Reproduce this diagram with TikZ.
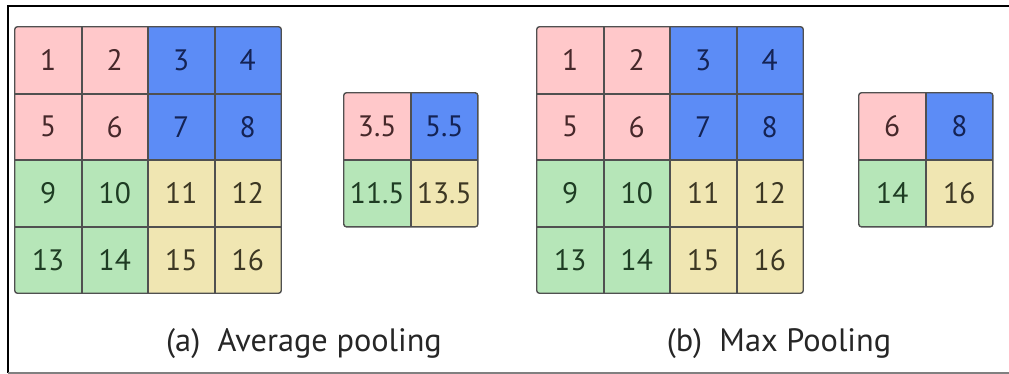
\documentclass[tikz,border=0pt]{standalone}
\usepackage{fontspec}
\setmainfont{PT Sans}
\usetikzlibrary{positioning}
\definecolor{cPink}{RGB}{255,200,202}
\definecolor{cBlue}{RGB}{92,140,246}
\definecolor{cGreen}{RGB}{182,230,184}
\definecolor{cYellow}{RGB}{240,230,178}
\definecolor{tPink}{RGB}{70,40,42}
\definecolor{tBlue}{RGB}{20,35,85}
\definecolor{tGreen}{RGB}{30,60,35}
\definecolor{tYellow}{RGB}{60,55,35}
\definecolor{gridline}{RGB}{80,80,80}

\begin{document}
\begin{tikzpicture}[
    x=0.025cm, y=-0.025cm,
    cell/.style={rectangle, minimum size=1.6625cm, inner sep=0pt, font=\fontsize{21}{24}\selectfont},
    qpink/.style={cell, fill=cPink, text=tPink},
    qblue/.style={cell, fill=cBlue, text=tBlue},
    qgreen/.style={cell, fill=cGreen, text=tGreen},
    qyellow/.style={cell, fill=cYellow, text=tYellow},
    inner/.style={draw=gridline, line width=1.2pt},
    outer/.style={draw=gridline, line width=1pt, rounded corners=2pt},
    caption/.style={font=\fontsize{23}{27}\selectfont, text=black!85}
]
    \useasboundingbox (0,0) rectangle (1009,374);

    % frame of the figure
    \coordinate (frameTL) at (8,6);
    \coordinate (frameTR) at (1009,6);
    \coordinate (frameBL) at (8,373);
    \coordinate (frameBR) at (1009,373);
    \draw[line width=1.5pt] (frameTR) -- (frameTL) -- (frameBL);
    \draw[gray, line width=0.8pt] (frameBL) -- (frameBR);

    % input grids
    \foreach \n/\q [count=\i from 0] in {1/qpink,2/qpink,3/qblue,4/qblue,5/qpink,6/qpink,7/qblue,8/qblue,
        9/qgreen,10/qgreen,11/qyellow,12/qyellow,13/qgreen,14/qgreen,15/qyellow,16/qyellow}{
        \pgfmathsetmacro\cx{48.25+66.5*mod(\i,4)}
        \pgfmathsetmacro\cy{60.25+66.5*int(\i/4)}
        \node[\q] (a\n) at (\cx,\cy) {\n};
        \node[\q] (m\n) at (\cx+522,\cy) {\n};
    }

    % pooled grids
    \node[qpink] (sa1) at (377.25,126.25) {3.5};
    \node[qblue, right=0pt of sa1] (sa2) {5.5};
    \node[qgreen, below=0pt of sa1] (sa3) {11.5};
    \node[qyellow, right=0pt of sa3] (sa4) {13.5};

    \node[qpink] (sm1) at (892.25,126.25) {6};
    \node[qblue, right=0pt of sm1] (sm2) {8};
    \node[qgreen, below=0pt of sm1] (sm3) {14};
    \node[qyellow, right=0pt of sm3] (sm4) {16};

    % grid lines
    \foreach \g in {a,m}{
        \foreach \k in {1,2,3}{
            \pgfmathtruncatemacro\bot{12+\k}
            \pgfmathtruncatemacro\lft{4*\k-3}
            \pgfmathtruncatemacro\rgt{4*\k}
            \draw[inner] (\g\k.north east) -- (\g\bot.south east);
            \draw[inner] (\g\lft.south west) -- (\g\rgt.south east);
        }
        \draw[outer] (\g1.north west) rectangle (\g16.south east);
    }
    \foreach \g in {sa,sm}{
        \draw[inner] (\g1.north east) -- (\g3.south east);
        \draw[inner] (\g1.south west) -- (\g2.south east);
        \draw[outer] (\g1.north west) rectangle (\g4.south east);
    }

    % captions
    \node[caption] (capA) at (304,344) {(a)\ \ Average pooling};
    \node[caption] (capB) at (779,344) {(b)\ \ Max Pooling};
\end{tikzpicture}
\end{document}
